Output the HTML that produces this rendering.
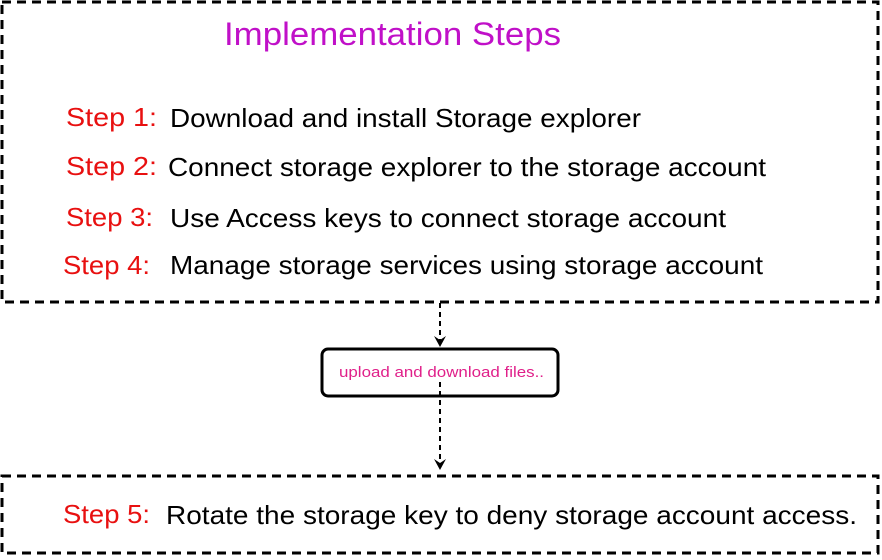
<!DOCTYPE html>
<html><head><style>body{margin:0;background:#fff}</style></head><body>
<svg width="882" height="555" xmlns="http://www.w3.org/2000/svg" font-family="Liberation Sans, sans-serif">
<rect width="882" height="555" fill="#fff"/>
<rect x="2" y="2" width="876" height="300" fill="none" stroke="#000" stroke-width="3" stroke-dasharray="9,6"/>
<rect x="2" y="476" width="876" height="77" fill="none" stroke="#000" stroke-width="3" stroke-dasharray="9,6"/>
<rect x="322" y="349" width="236" height="47" rx="6" fill="#fff" stroke="#000" stroke-width="3"/>
<line x1="440" y1="303" x2="440" y2="340" stroke="#000" stroke-width="2" stroke-dasharray="5,4"/>
<path d="M434 336 L440 347 L446 336 L440 340 Z" fill="#000"/>
<line x1="440" y1="382" x2="440" y2="460" stroke="#000" stroke-width="2" stroke-dasharray="5,4"/>
<path d="M434 459 L440 470 L446 459 L440 463 Z" fill="#000"/>
<text x="339" y="377" font-size="15" fill="#e0208a" textLength="205" lengthAdjust="spacingAndGlyphs">upload and download files..</text>
<text x="224" y="45" font-size="32" fill="#c010c8" textLength="337" lengthAdjust="spacingAndGlyphs">Implementation Steps</text>
<g font-size="26" fill="#e81010" lengthAdjust="spacingAndGlyphs">
<text x="66" y="126" textLength="91" lengthAdjust="spacingAndGlyphs">Step 1:</text>
<text x="66" y="175" textLength="91" lengthAdjust="spacingAndGlyphs">Step 2:</text>
<text x="66" y="226" textLength="87" lengthAdjust="spacingAndGlyphs">Step 3:</text>
<text x="63" y="274" textLength="87" lengthAdjust="spacingAndGlyphs">Step 4:</text>
<text x="63" y="523" textLength="87" lengthAdjust="spacingAndGlyphs">Step 5:</text>
</g>
<g font-size="26" fill="#000">
<text x="170" y="127" textLength="471" lengthAdjust="spacingAndGlyphs">Download and install Storage explorer</text>
<text x="168" y="176" textLength="598" lengthAdjust="spacingAndGlyphs">Connect storage explorer to the storage account</text>
<text x="170" y="227" textLength="556" lengthAdjust="spacingAndGlyphs">Use Access keys to connect storage account</text>
<text x="170" y="274" textLength="593" lengthAdjust="spacingAndGlyphs">Manage storage services using storage account</text>
<text x="166" y="524" textLength="691" lengthAdjust="spacingAndGlyphs">Rotate the storage key to deny storage account access.</text>
</g>
</svg>
</body></html>
